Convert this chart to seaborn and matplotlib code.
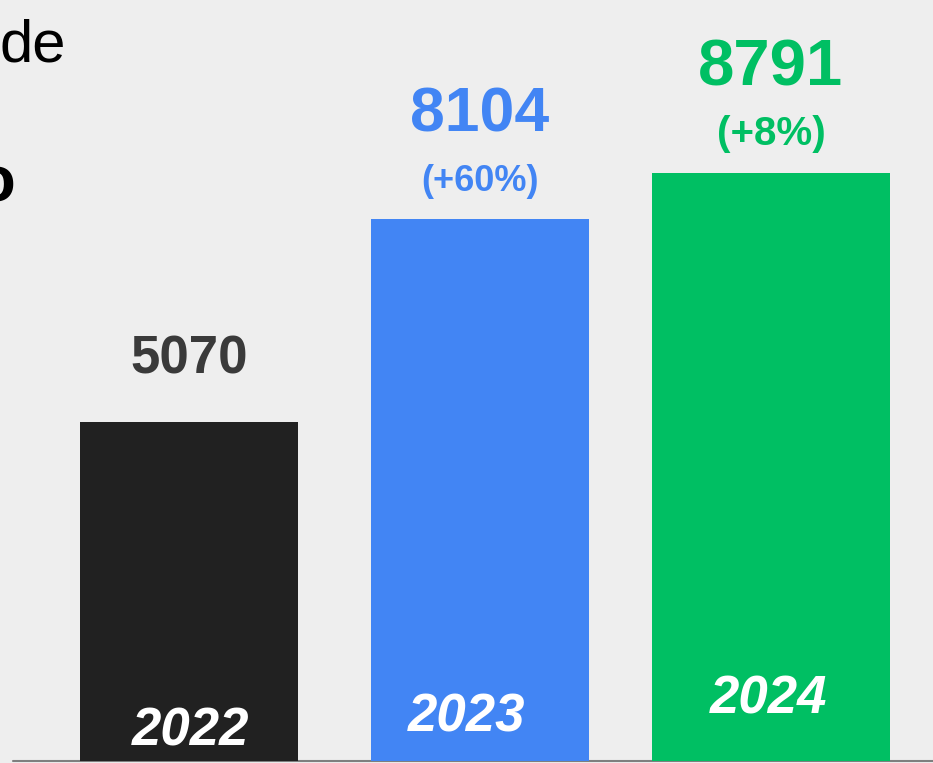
import pandas as pd
import matplotlib.pyplot as plt
import seaborn as sns

# --- DATA ---
years = ["2022", "2023", "2024"]
totals = [5070, 8104, 8791]
growth_labels = ["", "(+60%)", "(+8%)"]

# --- STYLE ---
BG = "#EEEEEE"
bar_colors = ["#212121", "#4285F4", "#00BF63"]
value_colors = ["#3A3A3A", "#4285F4", "#00BF63"]
bar_widths = [0.75, 0.75, 0.82]
value_sizes = [38, 45, 47]
growth_sizes = [26, 26, 29]
# year labels sit at uneven spots in the original layout (points)
year_dx = [1, -10, -2]
year_dy = [11, 21, 34]

sns.set_theme(style="white")
plt.rcParams["font.family"] = ["Liberation Sans", "DejaVu Sans"]

df = pd.DataFrame({"year": years, "total": totals})

fig = plt.figure(figsize=(9.33, 7.63), dpi=100, facecolor=BG)
ax = fig.add_axes([0, 0, 1, 1])
ax.set_facecolor(BG)

sns.barplot(data=df, x="year", y="total", hue="year", order=years, hue_order=years,
            palette=bar_colors, saturation=1, width=0.75, legend=False, ax=ax,
            linewidth=0, edgecolor="none", zorder=2)

# widen the last bar a little, like the original
for p, w in zip(ax.patches, bar_widths):
    cx = p.get_x() + p.get_width() / 2
    p.set_width(w)
    p.set_x(cx - w / 2)

ax.axhline(0, xmin=13 / 933, xmax=1, color="#7F7F7F", lw=1.5, zorder=1)

ax.set_xlim(-0.65, 2.557)
ax.set_ylim(-30, 11377)
ax.set_axis_off()

# --- LABELS ---
for i, (val, pct) in enumerate(zip(totals, growth_labels)):
    if pct:
        ax.annotate(pct, xy=(i, val), xytext=(0, 20), textcoords="offset points",
                    ha="center", va="baseline", fontsize=growth_sizes[i],
                    fontweight="bold", color=value_colors[i])
        num_off = 63
    else:
        num_off = 34.5
    ax.annotate(str(val), xy=(i, val), xytext=(0, num_off), textcoords="offset points",
                ha="center", va="baseline", fontsize=value_sizes[i],
                fontweight="bold", color=value_colors[i])
    ax.annotate(years[i], xy=(i, 0), xytext=(year_dx[i], year_dy[i]), textcoords="offset points",
                ha="center", va="baseline", fontsize=38, fontweight="bold",
                fontstyle="italic", color="white")

# cut-off heading text on the left edge
fig.text(0.0, 1 - 62 / 763, "de", ha="left", va="baseline", fontsize=43, color="black")
fig.text(15 / 933, 1 - 201 / 763, "o", ha="right", va="baseline", fontsize=47,
         fontweight="bold", color="black")

plt.savefig("out.png", dpi=100, facecolor=BG)
